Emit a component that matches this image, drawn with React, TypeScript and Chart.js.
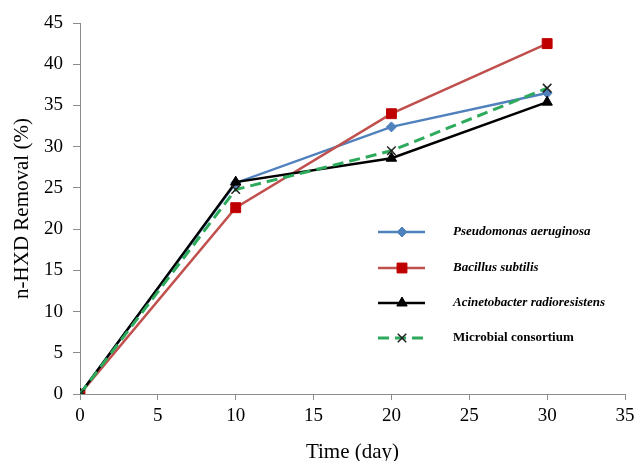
import React, { useEffect, useRef } from 'react';
import { Chart, registerables } from 'chart.js';
import { drawPoint } from 'chart.js/helpers';

Chart.register(...registerables);

const days = [0, 10, 20, 30];
const pseudomonas = [0, 25.6, 32.4, 36.5];
const bacillus = [0, 22.6, 34.0, 42.5];
const acinetobacter = [0, 25.7, 28.6, 35.4];
const consortium = [0, 24.8, 29.5, 37.1];
const seriesNames = [
  'Pseudomonas aeruginosa',
  'Bacillus subtilis',
  'Acinetobacter radioresistens',
  'Microbial consortium',
];
const italicNames = [true, true, true, false];

const SERIF = '"Liberation Serif", "Times New Roman", serif';

const legendPlugin = {
  id: 'customLegend',
  afterDraw(chart: any) {
    const ctx = chart.ctx;
    const rows = [232, 268, 303, 338];
    chart.data.datasets.forEach((ds: any, i: number) => {
      const y = rows[i];
      ctx.save();
      ctx.strokeStyle = ds.borderColor;
      ctx.lineWidth = ds.borderWidth;
      ctx.setLineDash(ds.borderDash || []);
      ctx.beginPath();
      ctx.moveTo(378, y);
      ctx.lineTo(425, y);
      ctx.stroke();
      ctx.setLineDash([]);
      ctx.fillStyle = ds.pointBackgroundColor;
      ctx.strokeStyle = ds.pointBorderColor;
      ctx.lineWidth = ds.pointBorderWidth;
      drawPoint(ctx, { pointStyle: ds.pointStyle, radius: ds.pointRadius, rotation: 0, borderWidth: ds.pointBorderWidth }, 402, y);
      ctx.font = (italicNames[i] ? 'italic ' : '') + 'bold 13px ' + SERIF;
      ctx.fillStyle = '#000';
      ctx.textBaseline = 'middle';
      ctx.textAlign = 'left';
      ctx.fillText(seriesNames[i], 453, y);
      ctx.restore();
    });
  },
};

function toXY(vals: number[]) {
  return vals.map((v, i) => ({ x: days[i], y: v }));
}

export default function App() {
  const ref = useRef<HTMLCanvasElement>(null);
  useEffect(() => {
    if (!ref.current) return;
    const axisColor = '#8c8c8c';
    const tickFont = { family: SERIF, size: 19 };
    const chart = new Chart(ref.current, {
      type: 'line',
      data: {
        datasets: [
          {
            label: seriesNames[0],
            data: toXY(pseudomonas),
            order: 4,
            borderColor: '#4F81BD',
            borderWidth: 2.5,
            pointStyle: 'rectRot',
            pointRadius: 5,
            pointBackgroundColor: '#4F81BD',
            pointBorderColor: '#4F81BD',
            pointBorderWidth: 1,
          },
          {
            label: seriesNames[1],
            data: toXY(bacillus),
            order: 3,
            borderColor: '#C0504D',
            borderWidth: 2.5,
            pointStyle: 'rect',
            pointRadius: 7,
            pointBackgroundColor: '#C00000',
            pointBorderColor: '#C00000',
            pointBorderWidth: 1,
          },
          {
            label: seriesNames[2],
            data: toXY(acinetobacter),
            order: 2,
            borderColor: '#000000',
            borderWidth: 2.5,
            pointStyle: 'triangle',
            pointRadius: 6,
            pointBackgroundColor: '#000000',
            pointBorderColor: '#000000',
            pointBorderWidth: 1,
          },
          {
            label: seriesNames[3],
            data: toXY(consortium),
            order: 1,
            borderColor: '#2EAA5C',
            borderWidth: 3,
            borderDash: [11, 6],
            pointStyle: 'crossRot',
            pointRadius: 6,
            pointBackgroundColor: '#222',
            pointBorderColor: '#222',
            pointBorderWidth: 1.5,
          },
        ],
      },
      options: {
        responsive: false,
        animation: false,
        layout: { padding: { top: 23, right: 12, left: 0, bottom: 0 } },
        plugins: { legend: { display: false }, tooltip: { enabled: false } },
        scales: {
          x: {
            type: 'linear',
            min: 0,
            max: 35,
            afterFit: (s: any) => { s.height = 67; s.paddingRight = 0; s.paddingLeft = 0; },
            ticks: { stepSize: 5, font: tickFont, color: '#000', padding: 5, maxRotation: 0 },
            grid: { display: true, drawOnChartArea: false, drawTicks: true, tickLength: 6, color: axisColor },
            border: { color: axisColor, width: 1 },
            title: { display: true, text: 'Time (day)', font: { family: SERIF, size: 21 }, color: '#000', padding: { top: 0, bottom: -4 } },
          },
          y: {
            type: 'linear',
            min: 0,
            max: 45,
            afterFit: (s: any) => { s.width = 80; s.paddingTop = 0; s.paddingBottom = 0; },
            ticks: { stepSize: 5, font: tickFont, color: '#000', padding: 10 },
            grid: { display: true, drawOnChartArea: false, drawTicks: true, tickLength: 7, color: axisColor },
            border: { color: axisColor, width: 1 },
            title: { display: true, text: 'n-HXD Removal (%)', font: { family: SERIF, size: 21 }, color: '#000', padding: { top: 10, bottom: 0 } },
          },
        },
      },
      plugins: [legendPlugin],
    });
    return () => chart.destroy();
  }, []);
  return (
    <div style={{ position: 'fixed', left: 0, top: 0, width: 637, height: 461, background: '#fff' }}>
      <canvas ref={ref} width={637} height={461} />
    </div>
  );
}
